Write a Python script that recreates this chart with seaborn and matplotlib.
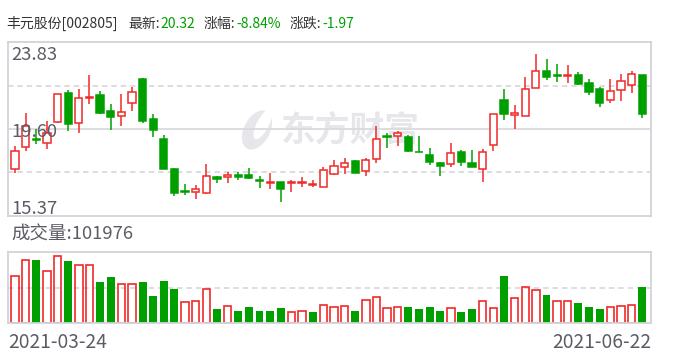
import numpy as np
import pandas as pd
import matplotlib
matplotlib.use("Agg")
import matplotlib.pyplot as plt
from matplotlib.patches import Ellipse
from matplotlib.transforms import IdentityTransform
import seaborn as sns

# ---------------- data ----------------
stock_name = "丰元股份[002805]"
latest = "20.32"
pct_change = "-8.84%"
abs_change = "-1.97"
last_volume = "101976"
date_labels = ["2021-03-24", "2021-06-22"]
y_ticks = [15.37, 19.60, 23.83]

opens = [17.64, 18.74, 19.13, 18.91, 19.93, 21.34, 19.88, 21.12, 21.26, 20.48,
         20.22, 20.86, 22.04, 20.09, 19.11, 17.65, 16.56, 16.50, 16.45, 17.26,
         17.25, 17.36, 17.36, 17.10, 16.94, 17.02, 16.94, 16.94, 16.84, 16.76,
         17.42, 17.72, 18.03, 17.52, 18.15, 19.23, 19.23, 19.18, 18.49, 18.32,
         17.94, 17.88, 18.48, 17.94, 17.64, 18.79, 21.02, 20.30, 20.25, 21.62,
         22.43, 22.24, 22.20, 22.24, 21.84, 21.55, 21.00, 21.49, 21.73, 22.24]
highs = [18.77, 20.40, 19.59, 19.98, 21.31, 21.50, 21.55, 22.24, 21.46, 20.82,
         21.31, 21.64, 22.09, 20.33, 19.31, 17.70, 16.92, 16.86, 17.90, 17.31,
         17.51, 17.51, 17.70, 17.31, 17.46, 17.02, 17.12, 17.26, 17.12, 17.75,
         18.06, 18.19, 18.06, 18.17, 19.75, 19.39, 19.52, 19.29, 19.24, 18.68,
         17.99, 18.92, 18.58, 18.58, 18.61, 20.33, 21.55, 20.77, 22.14, 23.26,
         23.02, 22.77, 22.72, 22.38, 22.04, 21.64, 22.04, 22.28, 22.43, 22.24]
lows = [17.47, 18.54, 18.84, 18.64, 19.91, 19.52, 19.42, 20.81, 20.32, 19.57,
        19.76, 20.45, 19.88, 19.18, 17.62, 16.30, 16.35, 16.20, 16.44, 16.94,
        16.98, 17.12, 17.13, 16.69, 16.64, 16.01, 16.54, 16.74, 16.74, 16.75,
        17.37, 17.42, 17.47, 17.32, 17.94, 18.69, 18.77, 18.45, 18.46, 17.86,
        17.32, 17.72, 17.80, 17.75, 17.03, 18.53, 20.04, 19.60, 20.25, 21.62,
        21.99, 21.89, 21.86, 21.76, 21.27, 20.69, 20.88, 20.98, 21.37, 20.15]
closes = [18.53, 19.73, 19.08, 19.39, 21.29, 19.86, 21.10, 21.17, 20.40, 20.20,
          20.42, 21.39, 20.01, 19.57, 17.65, 16.45, 16.50, 16.68, 17.30, 17.15,
          17.36, 17.23, 17.18, 17.05, 17.02, 16.64, 17.02, 17.02, 16.92, 17.59,
          17.78, 17.93, 17.47, 18.08, 19.13, 19.18, 19.39, 18.54, 18.46, 17.96,
          17.81, 18.42, 17.96, 17.75, 18.47, 20.33, 20.35, 20.38, 21.55, 22.41,
          22.15, 22.20, 22.24, 21.81, 21.42, 20.88, 21.44, 21.93, 22.29, 20.32]
volumes = [132000, 177000, 178000, 146000, 188000, 175000, 163000, 163000, 116000, 130000,
           110000, 110000, 116000, 77000, 119000, 96000, 59000, 63000, 96000, 40000,
           49000, 35000, 46000, 35000, 35000, 43000, 32000, 35000, 32000, 51000,
           46000, 49000, 35000, 65000, 74000, 43000, 46000, 46000, 40000, 46000,
           35000, 43000, 33000, 40000, 63000, 43000, 134000, 71000, 102000, 94000,
           79000, 63000, 63000, 57000, 46000, 40000, 46000, 49000, 51000, 101976]
vol_up = [1, 1, 0, 1, 1, 0, 1, 1, 0, 0,
          1, 1, 0, 0, 0, 0, 1, 1, 1, 0,
          1, 0, 0, 0, 0, 0, 1, 1, 0, 1,
          1, 1, 0, 1, 1, 1, 1, 0, 0, 0,
          0, 1, 0, 0, 1, 1, 0, 1, 1, 1,
          0, 1, 1, 0, 0, 0, 1, 1, 1, 0]

# ---------------- style ----------------
RED = "#f02a2a"
GREEN = "#009f00"
GRID = "#dadade"
BORDER = "#d2d2da"
LABEL = "#5c5c66"
DARK = "#333333"
VGREEN = "#00a000"
WMARK = "#e7e7eb"

sns.set_theme(style="white")
plt.rcParams["font.family"] = ["Noto Sans CJK SC", "DejaVu Sans"]

W, H = 688, 360
fig = plt.figure(figsize=(W / 100, H / 100), dpi=100)
fig.patch.set_facecolor("white")


def rect(l, t, r, b):
    return [l / W, 1 - b / H, (r - l) / W, (b - t) / H]


def ftext(x, y, s, **kw):
    return fig.text(x / W, 1 - y / H, s, **kw)


ax = fig.add_axes(rect(8, 42.3, 651, 215.5))
axv = fig.add_axes(rect(8, 251.7, 651, 323.3))

df = pd.DataFrame({"day": np.arange(len(opens)), "open": opens, "high": highs,
                   "low": lows, "close": closes})
df["up"] = df["close"] >= df["open"]
ccol = np.where(df["up"], RED, GREEN)

# ---------------- price panel ----------------
ymin, ymax = y_ticks[0], y_ticks[-1]
ax.set_ylim(ymin, ymax)
ax.axhline((ymin + ymax) / 2, color=GRID, lw=1.3, zorder=1)
for q in (0.25, 0.75):
    ax.axhline(ymin + (ymax - ymin) * q, color=GRID, lw=1.3,
               ls=(0, (3, 2.2)), zorder=1)

# watermark (logo + name)
ax.text(350 / W, 1 - 130 / H, "东方财富", transform=fig.transFigure,
        ha="center", va="center", fontsize=25, fontweight="bold",
        color=WMARK, zorder=0.5)
logo = Ellipse((257, H - 130), 26, 42, angle=-28, transform=IdentityTransform(),
               facecolor=WMARK, edgecolor="none", zorder=0.5)
ax.add_artist(logo)
cut = Ellipse((263, H - 124), 12, 34, angle=-28, transform=IdentityTransform(),
              facecolor="white", edgecolor="none", zorder=0.6)
ax.add_artist(cut)

ax.vlines(df["day"], df["low"], df["high"], colors=ccol, lw=1.1, zorder=2)
body_bottom = np.minimum(df["open"], df["close"])
body_h = (df["close"] - df["open"]).abs()
ax.bar(df["day"], body_h, bottom=body_bottom, width=0.68,
       facecolor=np.where(df["up"], "white", GREEN), edgecolor=ccol,
       linewidth=1.1, zorder=3)

# ---------------- volume panel ----------------
vdf = pd.DataFrame({"day": np.arange(len(volumes)), "vol": volumes,
                    "up": np.array(vol_up, dtype=bool)})
sns.barplot(data=vdf[vdf["up"]], x="day", y="vol", native_scale=True,
            width=0.7, fill=False, color=RED, saturation=1, linewidth=1.2,
            errorbar=None, ax=axv)
sns.barplot(data=vdf[~vdf["up"]], x="day", y="vol", native_scale=True,
            width=0.75, color=GREEN, saturation=1, linewidth=0,
            errorbar=None, ax=axv)
vmax = 201000
axv.set_ylim(0, vmax)
axv.axhline(vmax / 2, color=GRID, lw=1.3, ls=(0, (3, 2.2)), zorder=0.8)

for a in (ax, axv):
    a.set_xlim(-0.66, 59.83)
    a.set_xticks([])
    a.set_yticks([])
    a.set_xlabel("")
    a.set_ylabel("")
    a.set_facecolor("white")
    for s in a.spines.values():
        s.set_visible(True)
        s.set_color(BORDER)
        s.set_linewidth(1.3)

# ---------------- texts ----------------
FS = 13.3
ftext(11.5, 60.5, f"{y_ticks[2]:.2f}", fontsize=FS, color=LABEL, va="baseline")
ftext(11.5, 137.2, f"{y_ticks[1]:.2f}", fontsize=FS, color=LABEL, va="baseline")
ftext(11.5, 213.8, f"{y_ticks[0]:.2f}", fontsize=FS, color=LABEL, va="baseline")
ftext(11.0, 240.0, "成交量:" + last_volume, fontsize=FS, color=LABEL, va="baseline")
ftext(8.0, 348.3, date_labels[0], fontsize=13.8, color=LABEL, va="baseline")
ftext(651.5, 348.3, date_labels[1], fontsize=13.8, color=LABEL, va="baseline", ha="right")

TF = 10.0
TB = 28.3
fig.canvas.draw()
renderer = fig.canvas.get_renderer()
ftext(6.7, TB, stock_name, fontsize=TF, color=DARK, va="baseline")
for x0, lab, val in [(128.0, "最新:", latest), (204.0, "涨幅:", pct_change),
                     (290.0, "涨跌:", abs_change)]:
    t = ftext(x0, TB, lab, fontsize=TF, color=DARK, va="baseline")
    x1 = t.get_window_extent(renderer).x1
    ftext(x1 + 0.5, TB, val, fontsize=TF, color=VGREEN, va="baseline")

fig.savefig("out.png", dpi=100, facecolor="white")
